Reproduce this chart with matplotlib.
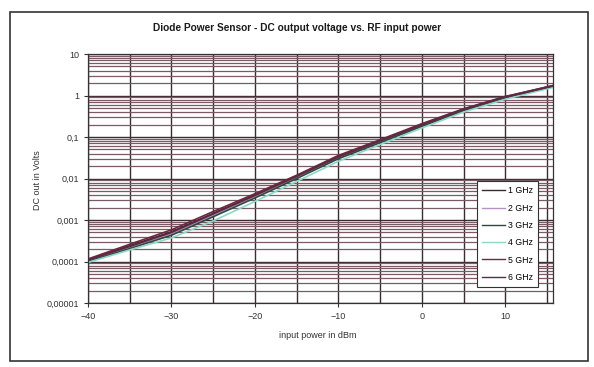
import numpy as np
import matplotlib.pyplot as plt
from matplotlib.patches import Rectangle
from matplotlib.ticker import LogLocator, FixedLocator, FuncFormatter, NullFormatter

plt.rcParams['font.family'] = ['Liberation Sans', 'DejaVu Sans']

# input power (dBm)
p_in = [-40, -35, -30, -25, -20, -15, -10, -5, 0, 5, 10, 15, 16]

# DC output (V)
v_1ghz = [1.10e-4, 2.4e-4, 5.2e-4, 1.45e-3, 4.0e-3, 1.15e-2, 0.034, 0.082, 0.20, 0.47, 0.93, 1.62, 1.80]
v_2ghz = [1.05e-4, 2.2e-4, 4.7e-4, 1.30e-3, 3.7e-3, 1.08e-2, 0.032, 0.078, 0.19, 0.45, 0.90, 1.58, 1.75]
v_3ghz = [1.00e-4, 2.05e-4, 4.3e-4, 1.20e-3, 3.4e-3, 1.00e-2, 0.030, 0.073, 0.18, 0.43, 0.87, 1.52, 1.70]
v_4ghz = [0.95e-4, 1.9e-4, 3.7e-4, 0.95e-3, 2.8e-3, 0.85e-2, 0.026, 0.066, 0.165, 0.40, 0.82, 1.45, 1.62]
v_5ghz = [1.15e-4, 2.6e-4, 5.8e-4, 1.60e-3, 4.3e-3, 1.20e-2, 0.036, 0.086, 0.21, 0.48, 0.95, 1.60, 1.78]
v_6ghz = [1.08e-4, 2.3e-4, 5.0e-4, 1.40e-3, 3.9e-3, 1.12e-2, 0.033, 0.080, 0.195, 0.46, 0.91, 1.56, 1.74]

labels = ['1 GHz', '2 GHz', '3 GHz', '4 GHz', '5 GHz', '6 GHz']
series = [v_1ghz, v_2ghz, v_3ghz, v_4ghz, v_5ghz, v_6ghz]
colors = ['#3a2a2e', '#b890c4', '#2f4a3c', '#8cd8c8', '#6e2838', '#5a2a48']

fig = plt.figure(figsize=(5.94, 3.67), dpi=100)
fig.patches.append(Rectangle((10/594, 1-361/367), 578/594, 349/367,
                             transform=fig.transFigure, fill=False,
                             edgecolor='#333333', lw=1.2))

ax = fig.add_axes([88/594, 1-303/367, 465/594, 249/367])
ax.set_yscale('log')
ax.set_xlim(-40, 15.7)
ax.set_ylim(1e-5, 10)

for v, lab, c in zip(series, labels, colors):
    ax.plot(p_in, v, color=c, lw=1.2, label=lab)

ax.xaxis.set_major_locator(FixedLocator([-40, -30, -20, -10, 0, 10]))
ax.xaxis.set_minor_locator(FixedLocator([-35, -25, -15, -5, 5, 15]))
ax.yaxis.set_major_locator(LogLocator(base=10, numticks=10))
ax.yaxis.set_minor_locator(LogLocator(base=10, subs=np.arange(2, 10), numticks=20))
ax.yaxis.set_minor_formatter(NullFormatter())


def comma_fmt(y, pos):
    s = ('%.5f' % y).rstrip('0').rstrip('.')
    return s.replace('.', ',')


ax.yaxis.set_major_formatter(FuncFormatter(comma_fmt))

ax.grid(True, which='major', axis='both', color='#3a2c30', lw=1.0)
ax.grid(True, which='minor', axis='x', color='#3a2c30', lw=1.0)
ax.grid(True, which='minor', axis='y', color='#7a5a64', lw=0.9)
ax.set_axisbelow(True)

ax.tick_params(labelsize=6.5, colors='#333333', length=3, width=0.8)
ax.tick_params(which='minor', length=0)
for s in ax.spines.values():
    s.set_color('#333333')
    s.set_linewidth(0.9)

fig.text(297/594, 1-28/367, 'Diode Power Sensor - DC output voltage vs. RF input power',
         ha='center', va='center', fontsize=7.3, fontweight='bold', color='#1a1a1a')
fig.text(38/594, 1-180/367, 'DC out in Volts', rotation=90, ha='center', va='center',
         fontsize=6.5, color='#333333')
fig.text(318/594, 1-335/367, 'input power in dBm', ha='center', va='center',
         fontsize=6.5, color='#333333')

leg = ax.legend(loc='lower left', bbox_to_anchor=(0.837, 0.064), fontsize=6.3,
                frameon=True, fancybox=False, framealpha=1, edgecolor='#333333',
                handlelength=2.6, labelspacing=0.95, borderpad=0.6, handletextpad=0.3,
                borderaxespad=0)
leg.get_frame().set_linewidth(0.8)
for line in leg.get_lines():
    line.set_linewidth(1.0)

fig.savefig('out.png', dpi=100)
